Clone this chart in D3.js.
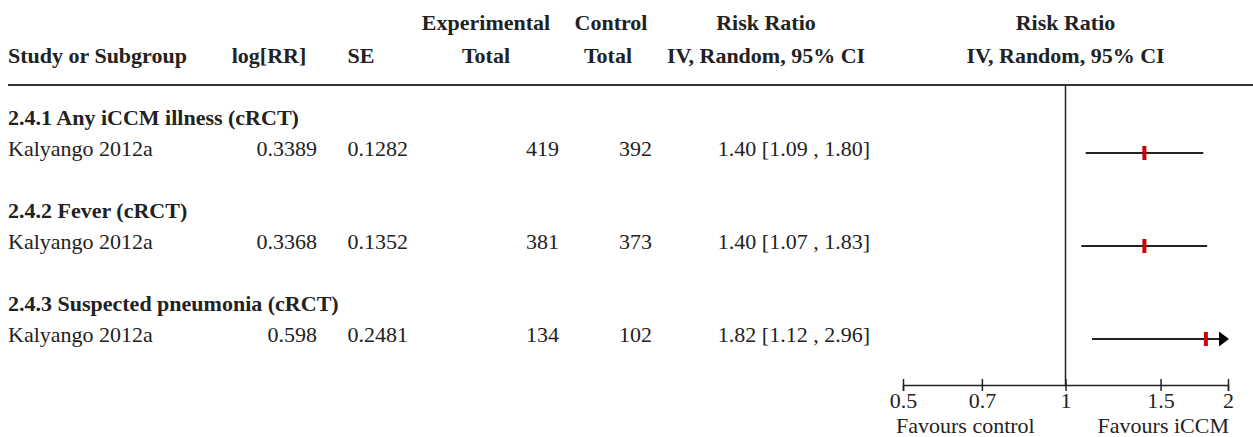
<!DOCTYPE html>
<html>
<head>
<meta charset="utf-8">
<script src="https://cdn.jsdelivr.net/npm/d3@7"></script>
<style>
  body { margin: 0; background: #fff; }
  svg text { font-family: "Liberation Serif", "Times New Roman", serif; font-size: 22px; fill: #222; }
  .bold { font-weight: bold; }
</style>
</head>
<body>
<div id="chart"></div>
<script>
// Subgroups and study rows
const groups = ["2.4.1 Any iCCM illness (cRCT)", "2.4.2 Fever (cRCT)", "2.4.3 Suspected pneumonia (cRCT)"];
const studies = ["Kalyango 2012a", "Kalyango 2012a", "Kalyango 2012a"];
const logRR = ["0.3389", "0.3368", "0.598"];
const se = ["0.1282", "0.1352", "0.2481"];
const expTotal = [419, 381, 134];
const ctrlTotal = [392, 373, 102];
const rr = [1.40, 1.40, 1.82];
const lower = [1.09, 1.07, 1.12];
const upper = [1.80, 1.83, 2.96];
const axisTicks = [0.5, 0.7, 1, 1.5, 2];

const width = 1253, height = 437;

const svg = d3.select("#chart")
    .append("svg")
    .attr("width", width)
    .attr("height", height);

// Forest plot scale
const x = d3.scaleLog()
    .domain([0.5, 2])
    .range([903, 1228]);

// Row positions (text baseline), header then study per group
const yGroup = d3.scaleLinear().domain([0, 1]).range([125, 218]);
const rowGap = 31;

// Column headers
const hdr = svg.append("g");
hdr.append("text").attr("x", 8).attr("y", 63).text("Study or Subgroup");
hdr.append("text").attr("x", 269).attr("y", 63).attr("text-anchor", "middle").text("log[RR]");
hdr.append("text").attr("x", 361).attr("y", 63).attr("text-anchor", "middle").text("SE");
hdr.append("text").attr("x", 486).attr("y", 30).attr("text-anchor", "middle").text("Experimental");
hdr.append("text").attr("x", 486).attr("y", 63).attr("text-anchor", "middle").text("Total");
hdr.append("text").attr("x", 611).attr("y", 30).attr("text-anchor", "middle").text("Control");
hdr.append("text").attr("x", 608).attr("y", 63).attr("text-anchor", "middle").text("Total");
hdr.append("text").attr("x", 766).attr("y", 30).attr("text-anchor", "middle").text("Risk Ratio");
hdr.append("text").attr("x", 766).attr("y", 63).attr("text-anchor", "middle").text("IV, Random, 95% CI");
hdr.append("text").attr("x", x(1)).attr("y", 30).attr("text-anchor", "middle").text("Risk Ratio");
hdr.append("text").attr("x", x(1)).attr("y", 63).attr("text-anchor", "middle").text("IV, Random, 95% CI");
hdr.selectAll("text").attr("class", "bold");

// Header rule
svg.append("line")
    .attr("x1", 8).attr("x2", width)
    .attr("y1", 85).attr("y2", 85)
    .attr("stroke", "#333").attr("stroke-width", 2);

// Line of no effect
svg.append("line")
    .attr("x1", x(1)).attr("x2", x(1))
    .attr("y1", 85).attr("y2", 385)
    .attr("stroke", "#222").attr("stroke-width", 1.5);

// Rows
const fmt = d3.format(".2f");
groups.forEach((g, i) => {
    const yh = yGroup(i);
    const ys = yh + rowGap;

    svg.append("text").attr("class", "bold").attr("x", 8).attr("y", yh).text(g);
    svg.append("text").attr("x", 8).attr("y", ys).text(studies[i]);
    svg.append("text").attr("x", 317).attr("y", ys).attr("text-anchor", "end").text(logRR[i]);
    svg.append("text").attr("x", 408).attr("y", ys).attr("text-anchor", "end").text(se[i]);
    svg.append("text").attr("x", 559).attr("y", ys).attr("text-anchor", "end").text(expTotal[i]);
    svg.append("text").attr("x", 652).attr("y", ys).attr("text-anchor", "end").text(ctrlTotal[i]);
    svg.append("text").attr("x", 870).attr("y", ys).attr("text-anchor", "end")
        .text(`${fmt(rr[i])} [${fmt(lower[i])} , ${fmt(upper[i])}]`);

    // CI line, clipped to axis range with arrow
    const yl = ys - 3;
    const clipHi = upper[i] > 2;
    const clipLo = lower[i] < 0.5;
    const x1 = x(Math.max(lower[i], 0.5));
    const x2 = x(Math.min(upper[i], 2));
    svg.append("line")
        .attr("x1", clipLo ? x1 + 8 : x1).attr("x2", clipHi ? x2 - 8 : x2)
        .attr("y1", yl).attr("y2", yl)
        .attr("stroke", "#222").attr("stroke-width", 2);
    if (clipHi) {
        svg.append("path")
            .attr("d", `M${x2 - 9},${yl - 7.5}L${x2 + 1},${yl}L${x2 - 9},${yl + 7.5}Z`)
            .attr("fill", "#000");
    }
    if (clipLo) {
        svg.append("path")
            .attr("d", `M${x1 + 9},${yl - 7.5}L${x1 - 1},${yl}L${x1 + 9},${yl + 7.5}Z`)
            .attr("fill", "#000");
    }
    // point estimate
    svg.append("rect")
        .attr("x", x(rr[i]) - 2).attr("y", yl - 7)
        .attr("width", 4).attr("height", 14)
        .attr("fill", "#d40000");
});

// Axis
const axis = svg.append("g")
    .attr("transform", "translate(0,385)")
    .call(d3.axisBottom(x).tickValues(axisTicks).tickFormat(d => d).tickSizeOuter(0).tickSize(6));
axis.select(".domain").attr("stroke", "#222").attr("stroke-width", 1.5);
axis.selectAll(".tick line").attr("y1", -6).attr("y2", 6).attr("stroke", "#222").attr("stroke-width", 1.5);
axis.selectAll(".tick text")
    .attr("y", 0).attr("dy", null)
    .attr("transform", "translate(0,23)")
    .style("font-family", '"Liberation Serif", serif')
    .style("font-size", "22px")
    .attr("fill", "#222");

svg.append("text").attr("x", x(0.5) - 7).attr("y", 433).text("Favours control");
svg.append("text").attr("x", x(2) + 1).attr("y", 433).attr("text-anchor", "end").text("Favours iCCM");
</script>
</body>
</html>
